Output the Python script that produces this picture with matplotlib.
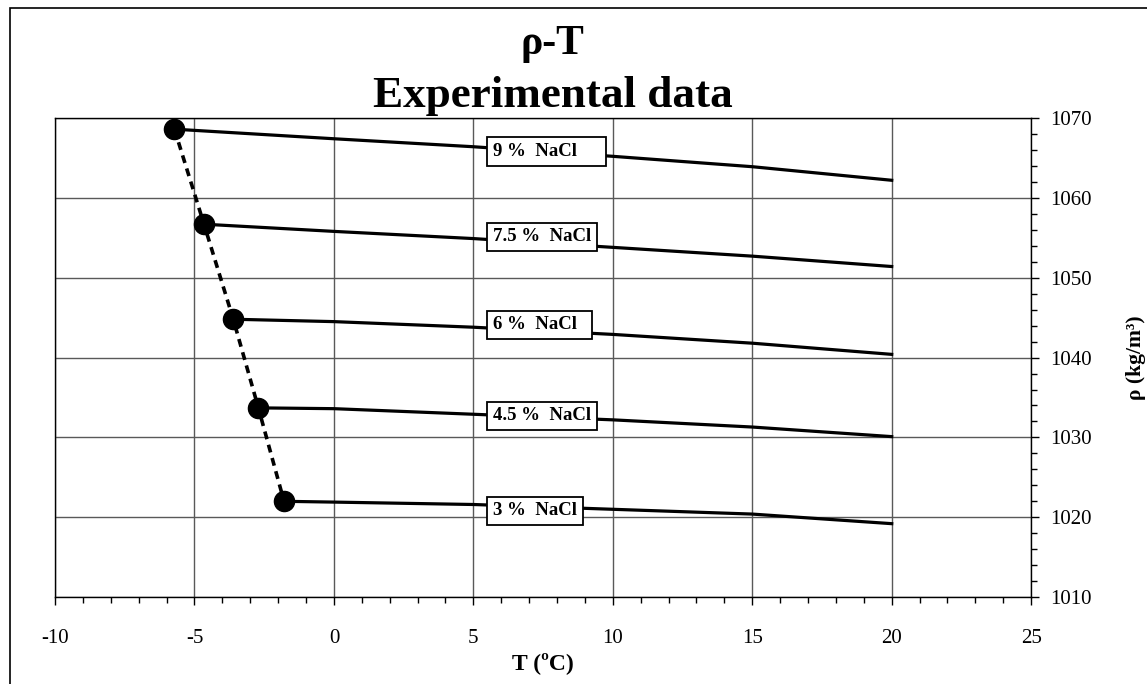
import matplotlib

matplotlib.use("Agg")

import matplotlib.pyplot as plt
from matplotlib.patches import Rectangle
from matplotlib.ticker import MultipleLocator

plt.rcParams["font.family"] = ["Liberation Serif", "DejaVu Serif"]
plt.rcParams["axes.unicode_minus"] = False

# temperatures (ºC) and densities (kg/m3)
temps = [0, 5, 10, 15, 20]
labels = ["9 %  NaCl     ", "7.5 %  NaCl", "6 %  NaCl  ", "4.5 %  NaCl", "3 %  NaCl"]
freeze_t = [-5.72, -4.66, -3.61, -2.71, -1.79]
freeze_rho = [1068.6, 1056.7, 1044.8, 1033.7, 1022.0]
rho_9 = [1067.4, 1066.4, 1065.2, 1063.9, 1062.2]
rho_75 = [1055.8, 1054.9, 1053.8, 1052.7, 1051.4]
rho_6 = [1044.5, 1043.8, 1042.9, 1041.8, 1040.4]
rho_45 = [1033.6, 1032.9, 1032.2, 1031.3, 1030.1]
rho_3 = [1021.9, 1021.6, 1021.0, 1020.4, 1019.2]
label_y = [1065.8, 1055.1, 1044.1, 1032.7, 1020.8]
label_x = 5.7

series = [rho_9, rho_75, rho_6, rho_45, rho_3]

fig = plt.figure(figsize=(11.47, 6.84), dpi=100)
ax = fig.add_axes([0.048, 0.127, 0.851, 0.7005])

ax.set_xlim(-10, 25)
ax.set_ylim(1010, 1070)

for t0, r0, rho in zip(freeze_t, freeze_rho, series):
    ax.plot([t0] + temps, [r0] + rho, color="black", linewidth=2.3, zorder=3)

# freezing-point curve
ax.plot(freeze_t, freeze_rho, color="black", linewidth=2.6,
        linestyle=(0, (2.2, 1.6)), zorder=3)
ax.plot(freeze_t, freeze_rho, "o", color="black", markersize=14.5, zorder=4)

for text, y in zip(labels, label_y):
    ax.text(label_x, y, text, ha="left", va="center", fontsize=13.5,
            fontweight="bold", zorder=5,
            bbox=dict(boxstyle="square,pad=0.3", facecolor="white",
                      edgecolor="black", linewidth=1.3))

ax.xaxis.set_major_locator(MultipleLocator(5))
ax.xaxis.set_minor_locator(MultipleLocator(1))
ax.yaxis.set_major_locator(MultipleLocator(10))
ax.yaxis.set_minor_locator(MultipleLocator(2))
ax.yaxis.tick_right()
ax.yaxis.set_label_position("right")
ax.tick_params(which="major", direction="out", length=6, width=1,
               labelsize=15, pad=8)
ax.tick_params(which="minor", direction="out", length=4, width=1)
ax.tick_params(axis="x", pad=17)
ax.grid(which="major", color="0.35", linewidth=1)
ax.set_axisbelow(True)
for spine in ax.spines.values():
    spine.set_linewidth(1)

ax.set_xlabel("T (ºC)", fontsize=17, fontweight="bold", labelpad=3)
ax.set_ylabel("ρ (kg/m³)", fontsize=15.5, fontweight="bold", labelpad=24)

fig.text(0.482, 0.936, "ρ-T", ha="center", va="center", fontsize=30,
         fontweight="bold")
fig.text(0.482, 0.859, "Experimental data", ha="center", va="center",
         fontsize=32.5, fontweight="bold")

fig.patches.append(Rectangle((10 / 1147, -0.01), 1.1, 0.998, transform=fig.transFigure,
                             fill=False, edgecolor="black", linewidth=1.2))

fig.savefig("out.png", dpi=100)
plt.close(fig)
